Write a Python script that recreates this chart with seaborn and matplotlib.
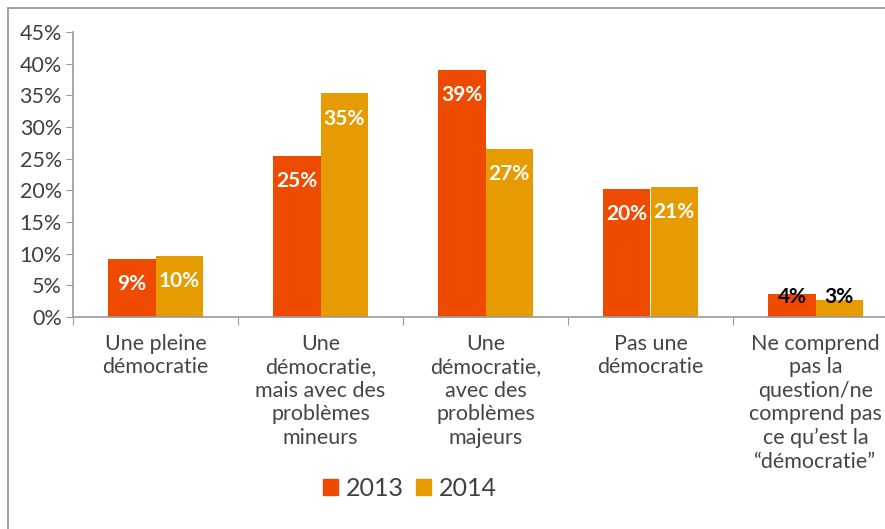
import pandas as pd
import matplotlib
matplotlib.use("Agg")
import matplotlib.pyplot as plt
import seaborn as sns
from matplotlib.patches import Rectangle

categories = ["Une pleine\ndémocratie",
              "Une\ndémocratie,\nmais avec des\nproblèmes\nmineurs",
              "Une\ndémocratie,\navec des\nproblèmes\nmajeurs",
              "Pas une\ndémocratie",
              "Ne comprend\npas la\nquestion/ne\ncomprend pas\nce qu\u2019est la\n\u201cdémocratie\u201d"]
years = ["2013", "2014"]
vals_2013 = [9.2, 25.4, 39.0, 20.2, 3.7]
vals_2014 = [9.7, 35.3, 26.5, 20.6, 2.7]
labels_2013 = ["9%", "25%", "39%", "20%", "4%"]
labels_2014 = ["10%", "35%", "27%", "21%", "3%"]
colors = ["#EE4A00", "#E69C00"]

df = pd.DataFrame({
    "cat": categories * 2,
    "year": [years[0]] * 5 + [years[1]] * 5,
    "val": vals_2013 + vals_2014,
})

sns.set_style("white")
plt.rcParams["font.family"] = ["Lato", "DejaVu Sans"]

fig = plt.figure(figsize=(8.85, 5.29), dpi=100)
ax = fig.add_axes([73 / 885, 1 - 317 / 529, 825 / 885, (317 - 32) / 529])
sns.barplot(data=df, x="cat", y="val", hue="year", palette=colors,
            width=0.57, ax=ax, legend=False, saturation=1, linewidth=0)

# value labels
last_y = max(vals_2013[4], vals_2014[4]) - 0.5
for cont, labs in zip(ax.containers, [labels_2013, labels_2014]):
    for i, (bar, lab) in enumerate(zip(cont, labs)):
        x = bar.get_x() + bar.get_width() / 2
        h = bar.get_height()
        if i < 4:
            ax.text(x, h - 4.0, lab, ha="center", va="center", color="white",
                    fontsize=15, fontweight="bold")
        else:
            ax.text(x, last_y, lab, ha="center", va="center", color="black",
                    fontsize=15, fontweight="bold")

ax.set_ylim(0, 45)
ax.set_xlim(-0.5, 4.5)
ax.set_yticks(range(0, 46, 5))
ax.set_yticklabels([f"{v}%" for v in range(0, 46, 5)], fontsize=15.5, color="#404040")
ax.set_xticks([-0.5, 0.5, 1.5, 2.5, 3.5, 4.5])
ax.set_xticklabels([])
ax.set_xticks(range(5), minor=True)
ax.set_xticklabels(categories, minor=True, fontsize=15.5, color="#454545",
                   linespacing=1.22, va="top")
ax.tick_params(axis="x", which="minor", length=0, pad=12)
ax.tick_params(axis="x", which="major", length=6, color="#999999", direction="out", bottom=True)
ax.tick_params(axis="y", length=5, color="#999999", direction="out", left=True, pad=3)
ax.set_xlabel("")
ax.set_ylabel("")
for s in ["top", "right"]:
    ax.spines[s].set_visible(False)
for s in ["left", "bottom"]:
    ax.spines[s].set_color("#999999")
    ax.spines[s].set_linewidth(1.2)

# legend
handles = [Rectangle((0, 0), 1, 1, color=c) for c in colors]
fig.legend(handles, years, loc="center", bbox_to_anchor=(410 / 885, 1 - 488 / 529),
           ncol=2, frameon=False, fontsize=18, handlelength=0.6, handleheight=0.6,
           handletextpad=0.3, columnspacing=0.5, labelcolor="#404040")

# outer frame
fig.patches.append(Rectangle((8 / 885, -0.1), 1.2, 1 - 8 / 529 + 0.1, transform=fig.transFigure,
                             fill=False, edgecolor="#999999", linewidth=1.3))

fig.savefig("out.png", dpi=100)
